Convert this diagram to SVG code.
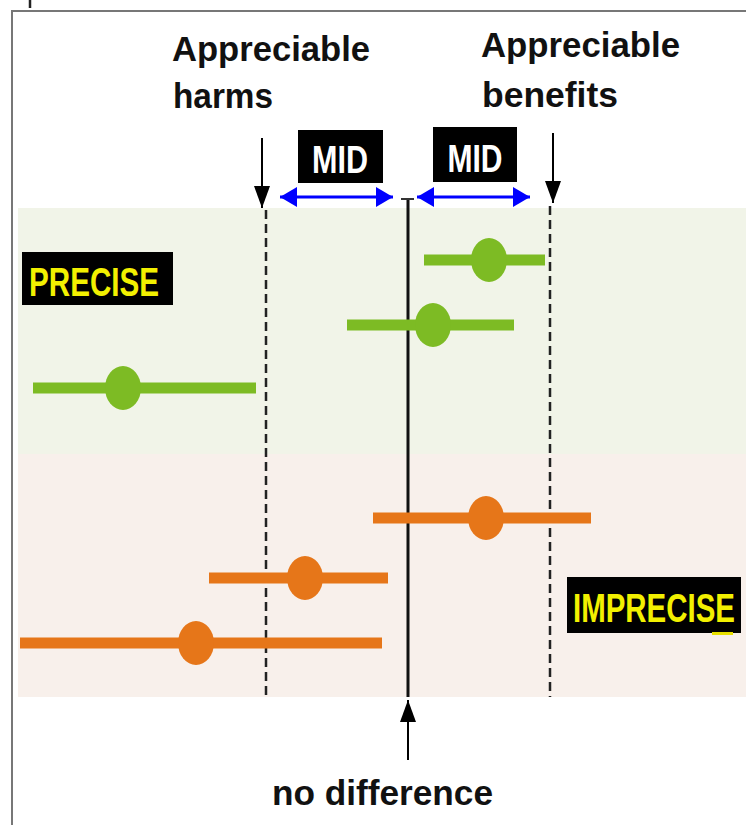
<svg xmlns="http://www.w3.org/2000/svg" width="746" height="825" viewBox="0 0 746 825">
<defs>
<style>
.lbl{font-family:"Liberation Sans",Arial,sans-serif;font-weight:bold;font-size:35px;fill:#111}
.mid{font-family:"Liberation Sans",Arial,sans-serif;font-weight:bold;font-size:38px;fill:#fff}
.tag{font-family:"Liberation Sans",Arial,sans-serif;font-weight:bold;font-size:41px;fill:#f2f000}
.g{stroke:#7dbb24;stroke-width:11}
.gd{fill:#7dbb24}
.o{stroke:#e67619;stroke-width:11}
.od{fill:#e67619}
.dash{stroke:#222;stroke-width:2.5;stroke-dasharray:9,5;fill:none}
.blk{stroke:#000;stroke-width:2;fill:none}
.blu{stroke:#0000ff;stroke-width:3;fill:none}
</style>
<marker id="ah" viewBox="0 0 22 16" refX="22" refY="8" markerWidth="22" markerHeight="16" markerUnits="userSpaceOnUse" orient="auto"><path d="M0,0 L22,8 L0,16 z" fill="#000"/></marker>
<marker id="bh" viewBox="0 0 17 20" refX="17" refY="10" markerWidth="17" markerHeight="20" markerUnits="userSpaceOnUse" orient="auto-start-reverse"><path d="M0,0 L17,10 L0,20 z" fill="#0000ff"/></marker>
</defs>
<rect x="0" y="0" width="746" height="825" fill="#fff"/>
<g id="frame">
<path d="M12,825 V11 H746" stroke="#777" stroke-width="2" fill="none"/>
<line x1="30" y1="0" x2="30" y2="8" stroke="#222" stroke-width="2.5"/>
</g>
<g id="bands">
<rect x="18" y="208" width="728" height="246" fill="#f1f4e8"/>
<rect x="18" y="454" width="728" height="243" fill="#f8f0eb"/>
</g>
<g id="reference-lines">
<line class="dash" x1="266" y1="210" x2="266" y2="697"/>
<line class="dash" x1="550" y1="206" x2="550" y2="697"/>
<line x1="408" y1="199" x2="408" y2="697" stroke="#111" stroke-width="3"/>
<line x1="401" y1="199" x2="414" y2="199" stroke="#333" stroke-width="2"/>
</g>
<g id="connectors">
<line class="blk" x1="262" y1="138" x2="262" y2="208" marker-end="url(#ah)"/>
<line class="blk" x1="553" y1="133" x2="553" y2="203" marker-end="url(#ah)"/>
<line class="blk" x1="408" y1="760" x2="408" y2="700" marker-end="url(#ah)"/>
<line class="blu" x1="280" y1="197" x2="393" y2="197" marker-start="url(#bh)" marker-end="url(#bh)"/>
<line class="blu" x1="417" y1="197" x2="530" y2="197" marker-start="url(#bh)" marker-end="url(#bh)"/>
</g>
<g id="label-harms">
<text class="lbl" x="172" y="61" textLength="198" lengthAdjust="spacingAndGlyphs">Appreciable</text>
<text class="lbl" x="173" y="108" textLength="100" lengthAdjust="spacingAndGlyphs">harms</text>
</g>
<g id="label-benefits">
<text class="lbl" x="481" y="57" textLength="199" lengthAdjust="spacingAndGlyphs">Appreciable</text>
<text class="lbl" x="482" y="107" textLength="136" lengthAdjust="spacingAndGlyphs">benefits</text>
</g>
<g id="mid-left">
<rect x="298" y="130" width="85" height="53" fill="#000"/>
<text class="mid" x="340" y="173" text-anchor="middle" textLength="56" lengthAdjust="spacingAndGlyphs">MID</text>
</g>
<g id="mid-right">
<rect x="433" y="127" width="84" height="55" fill="#000"/>
<text class="mid" x="475" y="172" text-anchor="middle" textLength="55" lengthAdjust="spacingAndGlyphs">MID</text>
</g>
<g id="precise">
<rect x="22" y="252" width="151" height="53" fill="#000"/>
<text class="tag" x="29" y="296" textLength="130" lengthAdjust="spacingAndGlyphs">PRECISE</text>
</g>
<g id="imprecise">
<rect x="567" y="577" width="174" height="56" fill="#000"/>
<text class="tag" x="573" y="622" textLength="162" lengthAdjust="spacingAndGlyphs">IMPRECISE</text>
<rect x="712" y="632" width="21" height="3" fill="#e8e000"/>
</g>
<g id="ci-green-1">
<line class="g" x1="424" y1="260" x2="545" y2="260"/>
<ellipse class="gd" cx="489" cy="260" rx="18" ry="22"/>
</g>
<g id="ci-green-2">
<line class="g" x1="347" y1="325" x2="514" y2="325"/>
<ellipse class="gd" cx="433" cy="325" rx="18" ry="22"/>
</g>
<g id="ci-green-3">
<line class="g" x1="33" y1="388" x2="256" y2="388"/>
<ellipse class="gd" cx="123" cy="388" rx="18" ry="22"/>
</g>
<g id="ci-orange-1">
<line class="o" x1="373" y1="518" x2="591" y2="518"/>
<ellipse class="od" cx="486" cy="518" rx="18" ry="22"/>
</g>
<g id="ci-orange-2">
<line class="o" x1="209" y1="578" x2="388" y2="578"/>
<ellipse class="od" cx="305" cy="578" rx="18" ry="22"/>
</g>
<g id="ci-orange-3">
<line class="o" x1="20" y1="643" x2="382" y2="643"/>
<ellipse class="od" cx="196" cy="643" rx="18" ry="22"/>
</g>
<g id="label-no-difference">
<text class="lbl" x="272" y="805" textLength="221" lengthAdjust="spacingAndGlyphs">no difference</text>
</g>
</svg>
